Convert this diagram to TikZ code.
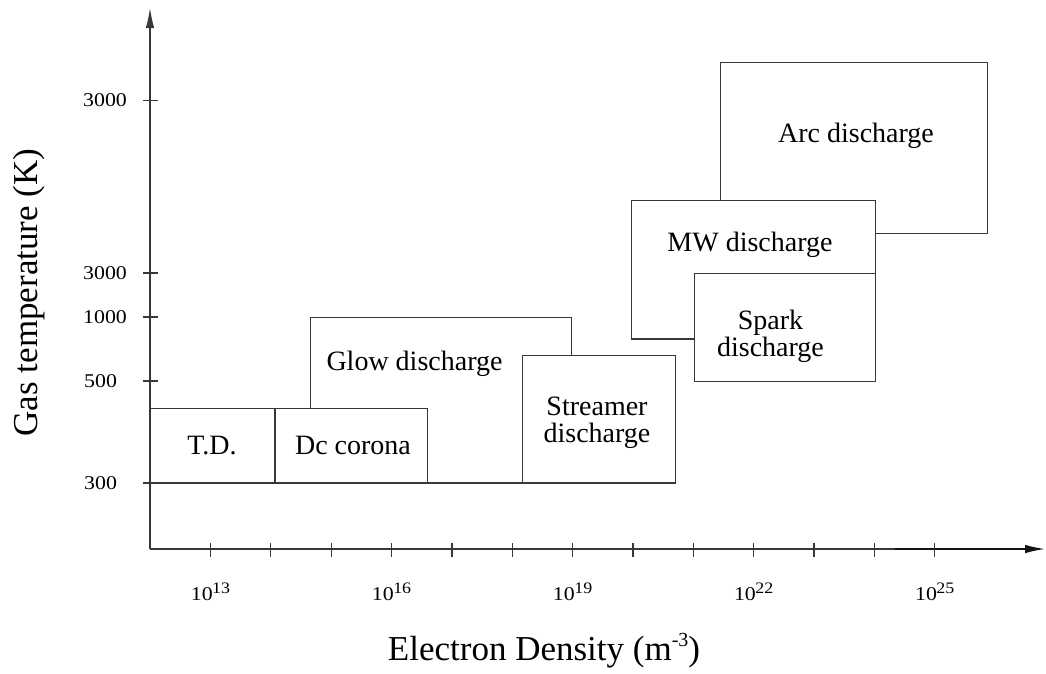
\documentclass[tikz,border=0pt]{standalone}
\usepackage{fontspec}
\setmainfont{Liberation Serif}
\newfontfamily\tickfont[FakeStretch=1.12]{Liberation Serif}
\usetikzlibrary{arrows.meta}
\newcommand\supr[1]{\kern-0.5pt\raisebox{6.5pt}{\fontsize{16}{16}\selectfont #1}}
\begin{document}
\begin{tikzpicture}[x=1pt,y=-1pt,
  line/.style={draw=black!78, line width=1.3pt},
  box/.style={line, fill=white, inner sep=0pt, outer sep=0pt, anchor=north west},
  lbl/.style={font=\fontsize{28}{26.7}\selectfont, inner sep=0pt, align=center},
  tickline/.style={line, line width=1.2pt},
  tlab/.style={font=\tickfont\fontsize{19.5}{20}\selectfont, inner sep=0pt},
  axtitle/.style={font=\fontsize{35}{36}\selectfont, inner sep=0pt},
  axisline/.style={line, -{Latex[length=20pt,width=8.5pt]}}
]
\useasboundingbox (0,0) rectangle (1046,673);

% axes
\coordinate (O) at (150,549);
\coordinate (ytip) at (150,8);
\coordinate (xdark) at (895,549);
\coordinate (xtip) at (1045,549);
\draw[axisline] (O) -- (ytip);
\draw[line] (O) -- (xdark);
\draw[axisline, draw=black!92, line width=1.4pt] (xdark) -- (xtip);

% ticks
\foreach \i in {0,...,12}
  \draw[tickline] ({210.5+60.35*\i},543) -- ({210.5+60.35*\i},557);
\foreach \y in {100.5,273,317,381,483}
  \draw[tickline] (143,\y) -- (158,\y);

% y tick labels
\node[tlab, anchor=west] (y3000a) at (83,100.5) {3000};
\node[tlab, anchor=west] (y3000b) at (83,273) {3000};
\node[tlab, anchor=west] (y1000) at (83,317) {1000};
\node[tlab, anchor=west] (y500) at (84,381) {500};
\node[tlab, anchor=west] (y300) at (84,483) {300};

% x tick labels
\node[tlab, anchor=base] (x13) at (210.5,600) {10\supr{13}};
\node[tlab, anchor=base] (x16) at (391.55,600) {10\supr{16}};
\node[tlab, anchor=base] (x19) at (572.6,600) {10\supr{19}};
\node[tlab, anchor=base] (x22) at (753.65,600) {10\supr{22}};
\node[tlab, anchor=base] (x25) at (934.7,600) {10\supr{25}};

% boxes
\node[box, minimum width=261pt, minimum height=165.7pt] (glow) at (310.7,317.3) {};
\node[box, minimum width=152.3pt, minimum height=74.3pt] (dc) at (275,408.7) {};
\node[box, minimum width=125pt, minimum height=74.3pt] (td) at (150,408.7) {};
\node[box, minimum width=153.4pt, minimum height=127.7pt] (streamer) at (522.3,355.3) {};
\node[box, minimum width=267pt, minimum height=170.6pt] (arc) at (720.3,62.7) {};
\node[box, minimum width=243.6pt, minimum height=138.3pt] (mw) at (631.7,200.7) {};
\node[box, minimum width=181pt, minimum height=108.4pt] (spark) at (694.3,273.3) {};

% box labels
\node[lbl, anchor=base] (tdl) at (212,454) {T.D.};
\node[lbl, anchor=base] (dcl) at (353,454) {Dc corona};
\node[lbl, anchor=base] (glowl) at (414.5,370) {Glow discharge};
\node[lbl] (streamerl) at (597,423) {Streamer\\discharge};
\node[lbl, anchor=base] (arcl) at (856,142.7) {Arc discharge};
\node[lbl, anchor=base] (mwl) at (750,251) {MW discharge};
\node[lbl] (sparkl) at (770.5,336.2) {Spark\\discharge};

% axis titles
\node[axtitle, rotate=90] (ytitle) at (29,292.5) {Gas temperature (K)};
\node[axtitle, anchor=base] (xtitle) at (544,660) {Electron Density (m\raisebox{14pt}{\fontsize{20}{20}\selectfont -3})};
\end{tikzpicture}
\end{document}
